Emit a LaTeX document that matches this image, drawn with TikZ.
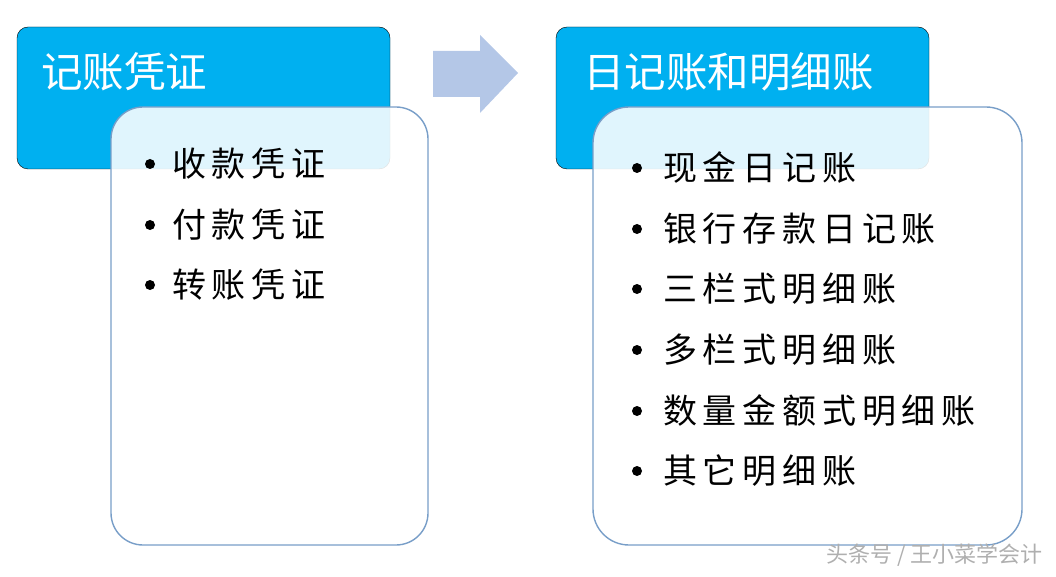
\documentclass[tikz,border=0pt]{standalone}
\usepackage{fontspec}
\newfontfamily\cjk{Noto Sans CJK SC}
\newfontfamily\cjkitem{Noto Sans CJK SC}[LetterSpace=17]
\definecolor{hdrblue}{RGB}{0,176,240}
\definecolor{boxline}{RGB}{120,158,200}
\definecolor{arrowblue}{RGB}{180,199,231}
\definecolor{wmgray}{RGB}{175,175,175}
\tikzset{
  header/.style={fill=hdrblue, rounded corners=11pt},
  content/.style={fill=white, fill opacity=0.88, draw=boxline, line width=1.4pt, rounded corners=32pt},
  hdrtext/.style={anchor=west, inner sep=0pt, text=white, font=\cjk\fontsize{41.5}{48}\selectfont},
  itemtext/.style={anchor=west, inner sep=0pt, text=black, font=\cjkitem\fontsize{34}{40}\selectfont},
  bulletdot/.style={circle, fill=black, inner sep=0pt, minimum size=10pt},
}
\begin{document}
\begin{tikzpicture}[x=1pt,y=-1pt]
\useasboundingbox (0,0) rectangle (1056,577);
% left group
\draw[header] (17,27) rectangle (390,169);
\node[hdrtext] (lh) at (41,72) {记账凭证};
\draw[content] (111,107) rectangle (428,545);
\node[bulletdot] (lb1) at (150,164) {};
\node[itemtext] (li1) at (172,164) {收款凭证};
\node[bulletdot] (lb2) at (150,225) {};
\node[itemtext] (li2) at (172,225) {付款凭证};
\node[bulletdot] (lb3) at (150,285) {};
\node[itemtext] (li3) at (172,285) {转账凭证};
% arrow
\fill[arrowblue] (433,51) -- (480,51) -- (480,35) -- (518,73) -- (480,113) -- (480,97) -- (433,97) -- cycle;
% right group
\draw[header] (556,27) rectangle (929,169);
\node[hdrtext] (rh) at (583,72) {日记账和明细账};
\draw[content, rounded corners=36pt] (593,107) rectangle (1022,545);
\node[bulletdot] (rb1) at (637,168) {};
\node[itemtext] (ri1) at (663,168) {现金日记账};
\node[bulletdot] (rb2) at (637,229) {};
\node[itemtext] (ri2) at (663,229) {银行存款日记账};
\node[bulletdot] (rb3) at (637,289) {};
\node[itemtext] (ri3) at (663,289) {三栏式明细账};
\node[bulletdot] (rb4) at (637,350) {};
\node[itemtext] (ri4) at (663,350) {多栏式明细账};
\node[bulletdot] (rb5) at (637,411) {};
\node[itemtext] (ri5) at (663,411) {数量金额式明细账};
\node[bulletdot] (rb6) at (637,471) {};
\node[itemtext] (ri6) at (663,471) {其它明细账};
% watermark
\node[anchor=west, inner sep=0pt, text=wmgray, font=\cjk\fontsize{22}{26}\selectfont] (wm) at (826,555) {头条号 / 王小菜学会计};
\end{tikzpicture}
\end{document}
